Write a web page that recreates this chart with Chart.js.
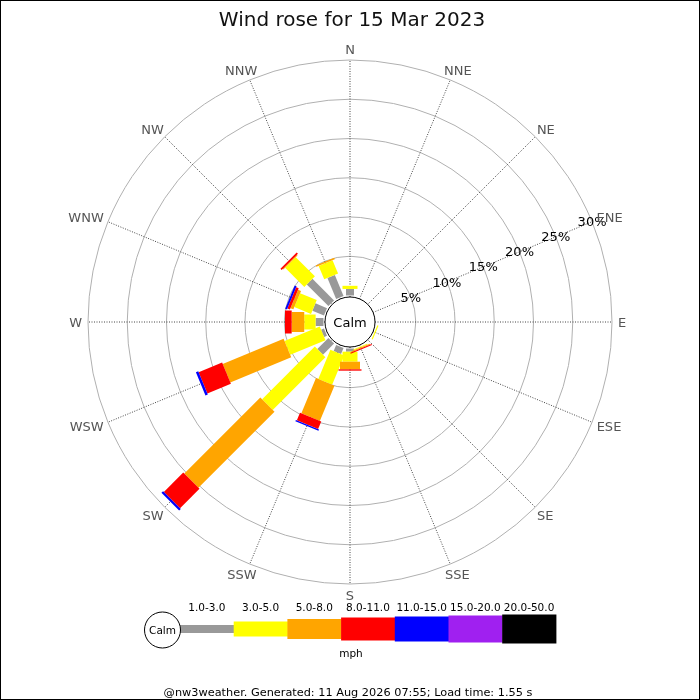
<!DOCTYPE html>
<html>
<head>
<meta charset="utf-8">
<script src="https://cdn.jsdelivr.net/npm/chart.js@4/dist/chart.umd.min.js"></script>
<style>
html,body{margin:0;padding:0;background:#fff;}
canvas{display:block;}
</style>
</head>
<body>
<canvas id="rose" width="700" height="700"></canvas>
<script>
// ---- data ----
const directions = ['N','NNE','NE','ENE','E','ESE','SE','SSE','S','SSW','SW','WSW','W','WNW','NW','NNW'];
const speedBins = ['1.0-3.0','3.0-5.0','5.0-8.0','8.0-11.0','11.0-15.0','15.0-20.0','20.0-50.0'];
// percentage of time per direction for each speed bin (mph)
const bin1to3   = [0.83,0,0,0,0,0,0,0,0.40,0.83,2.00,0.40,1.00,1.60,3.90,2.90];
const bin3to5   = [0.40,0,0,0,0,0.15,0,0.13,1.28,4.04,9.50,4.85,1.45,2.30,3.45,1.85];
const bin5to8   = [0,0,0,0,0,0,0,0.13,0.97,4.86,13.70,8.40,1.60,0.40,0.12,0.20];
const bin8to11  = [0,0,0,0,0,0,0,0.13,0.17,1.05,3.50,3.24,0.85,0.35,0.22,0];
const bin11to15 = [0,0,0,0,0,0,0,0,0,0.19,0.30,0.32,0,0.25,0,0];
const bin15to20 = [0,0,0,0,0,0,0,0,0,0,0,0,0,0,0,0];
const bin20to50 = [0,0,0,0,0,0,0,0,0,0,0,0,0,0,0,0];
const tickValues = [5,10,15,20,25,30];
const tickLabels = ['5%','10%','15%','20%','25%','30%'];
const tickDirection = 'ENE';
const titleText = 'Wind rose for 15 Mar 2023';
const calmLabel = 'Calm';
const unitLabel = 'mph';
const footerText = '@nw3weather. Generated: 11 Aug 2026 07:55; Load time: 1.55 s';

// ---- styles ----
const binSeries = [bin1to3, bin3to5, bin5to8, bin8to11, bin11to15, bin15to20, bin20to50];
const binColors = ['#999999','#ffff00','#ffa500','#ff0000','#0000ff','#a020f0','#000000'];
const binWidths = [8,15,20,23,25,27,29];
const FONT = '"DejaVu Sans", "Liberation Sans", sans-serif';

function font(px){ return px + 'px ' + FONT; }

const rosePlugin = {
  id: 'windrose',
  beforeDatasetsDraw(chart) {
    const s = chart.scales.r;
    const ctx = chart.ctx;
    const base = directions.map(() => 0);
    chart.data.datasets.forEach((ds, k) => {
      ctx.save();
      ctx.strokeStyle = binColors[k];
      ctx.lineWidth = binWidths[k];
      ctx.lineCap = 'butt';
      ds.data.forEach((v, i) => {
        if (v > 0) {
          const a = s.getPointPositionForValue(i, base[i]);
          const b = s.getPointPositionForValue(i, base[i] + v);
          ctx.beginPath();
          ctx.moveTo(a.x, a.y);
          ctx.lineTo(b.x, b.y);
          ctx.stroke();
        }
        base[i] += v;
      });
      ctx.restore();
    });
  },
  afterDraw(chart) {
    const s = chart.scales.r;
    const ctx = chart.ctx;
    const cx = s.xCenter, cy = s.yCenter;
    ctx.save();

    // calm circle
    const r0 = s.getDistanceFromCenterForValue(0) - 1.5;
    ctx.beginPath();
    ctx.arc(cx, cy, r0, 0, Math.PI * 2);
    ctx.fillStyle = '#fff';
    ctx.fill();
    ctx.lineWidth = 1;
    ctx.strokeStyle = '#000';
    ctx.stroke();
    ctx.fillStyle = '#000';
    ctx.font = font(13);
    ctx.textAlign = 'center';
    ctx.textBaseline = 'alphabetic';
    ctx.fillText(calmLabel, cx, cy + 4.7);

    // tick labels along ENE
    const ti = directions.indexOf(tickDirection);
    ctx.font = font(13);
    tickValues.forEach((v, k) => {
      const p = s.getPointPositionForValue(ti, v);
      ctx.fillText(tickLabels[k], p.x, p.y + 4.7);
    });

    // direction labels
    ctx.fillStyle = '#555';
    ctx.font = font(13);
    const cap = 9.5;
    directions.forEach((d, i) => {
      const ang = s.getIndexAngle(i);
      const p = s.getPointPosition(i, s.drawingArea + 6);
      const w = ctx.measureText(d).width;
      const x = p.x + Math.sin(ang) * w / 2;
      const y = p.y - Math.cos(ang) * cap / 2;
      ctx.fillText(d, x, y + cap / 2);
    });

    // title
    ctx.fillStyle = '#111';
    ctx.font = font(20);
    ctx.fillText(titleText, 352, 25.5);

    // legend
    const lx0 = 180, segW = 53.7, ly = 629;
    binColors.forEach((c, k) => {
      const h = binWidths[k];
      ctx.fillStyle = c;
      ctx.fillRect(lx0 + k * segW, ly - h / 2, segW + 0.5, h);
      ctx.fillStyle = '#000';
      ctx.font = font(10.5);
      ctx.fillText(speedBins[k], lx0 + k * segW + segW / 2, 610.5);
    });
    ctx.beginPath();
    ctx.arc(162.5, 630, 18, 0, Math.PI * 2);
    ctx.fillStyle = '#fff';
    ctx.fill();
    ctx.strokeStyle = '#000';
    ctx.lineWidth = 1;
    ctx.stroke();
    ctx.fillStyle = '#000';
    ctx.font = font(10.5);
    ctx.fillText(calmLabel, 162.5, 634);
    ctx.fillText(unitLabel, 351, 657);

    // footer
    ctx.font = font(11.3);
    ctx.fillText(footerText, 348, 695.5);

    // border
    ctx.strokeStyle = '#000';
    ctx.lineWidth = 1;
    ctx.strokeRect(0.5, 0.5, 699, 699);
    ctx.restore();
  }
};

new Chart(document.getElementById('rose'), {
  type: 'radar',
  data: {
    labels: directions,
    datasets: binSeries.map((arr, k) => ({
      label: speedBins[k],
      data: arr,
      showLine: false,
      borderWidth: 0,
      borderColor: 'rgba(0,0,0,0)',
      backgroundColor: 'rgba(0,0,0,0)',
      pointRadius: 0,
      pointHoverRadius: 0,
      fill: false
    }))
  },
  options: {
    responsive: false,
    animation: false,
    devicePixelRatio: 1,
    layout: { padding: { left: 88, right: 88, top: 60, bottom: 116 } },
    plugins: { legend: { display: false }, title: { display: false }, tooltip: { enabled: false } },
    events: [],
    scales: {
      r: {
        min: -3.38,
        max: 30,
        startAngle: 0,
        ticks: { display: false, stepSize: 5 },
        afterBuildTicks: (scale) => { scale.ticks = tickValues.map(v => ({ value: v })); },
        pointLabels: { display: false },
        grid: { circular: true, color: '#b0b0b0', lineWidth: 1 },
        angleLines: { display: true, color: '#444', lineWidth: 1, borderDash: [1, 1.5] }
      }
    }
  },
  plugins: [rosePlugin]
});
</script>
</body>
</html>
